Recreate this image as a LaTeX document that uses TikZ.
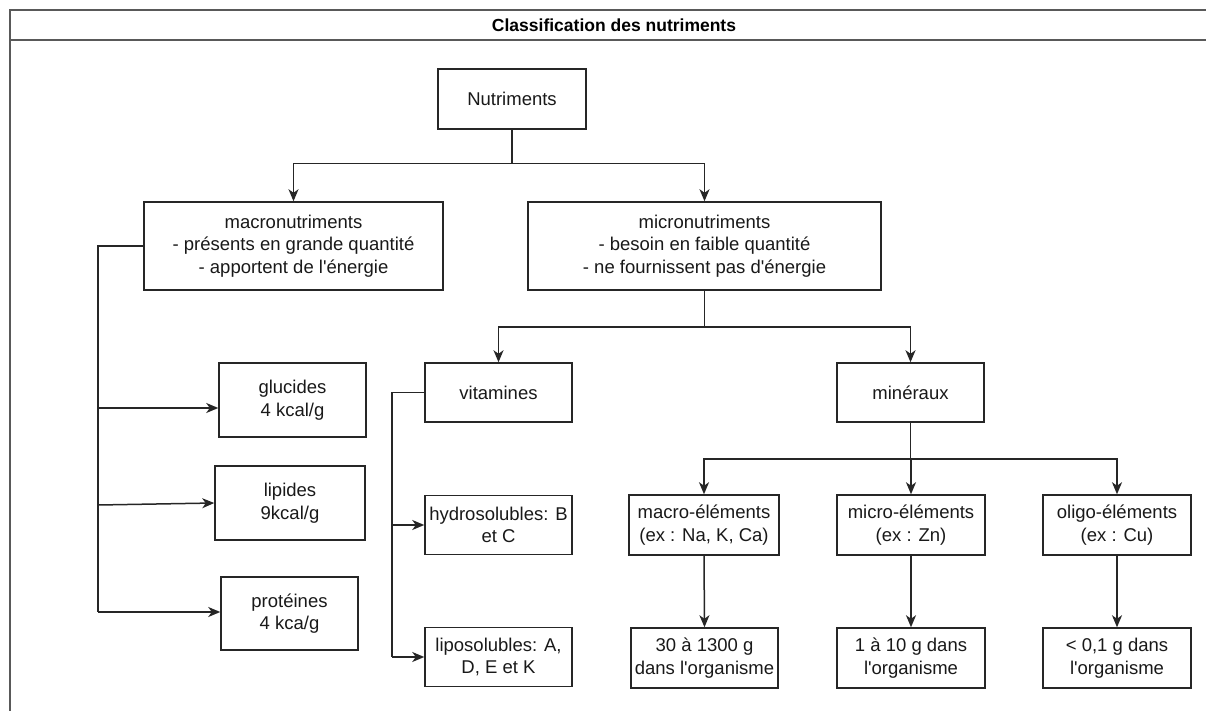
\documentclass[tikz,border=0pt]{standalone}
\usepackage{fontspec}
\setmainfont{Liberation Sans}
\usetikzlibrary{arrows.meta}
\newcommand{\apos}{\textquotesingle}
\begin{document}
\begin{tikzpicture}[x=1pt,y=-1pt,
  box/.style={draw=black!85, line width=1.5pt, fill=white, align=center,
    font=\fontsize{18.5}{22.5}\selectfont, inner sep=0pt, text=black!90},
  conn/.style={draw=black!85, line width=1.5pt},
  arr/.style={conn, -{Stealth[length=12pt,width=10pt,inset=3.5pt]}},
  frame/.style={draw=black!65, line width=1.8pt}]
\useasboundingbox (0,0) rectangle (1206,711);
\clip (0,0) rectangle (1206,711);
\fill[white] (0,0) rectangle (1206,711);
% frame
\draw[frame] (10,720) -- (10,10) -- (1215,10);
\draw[frame] (10,40) -- (1215,40);
\node[font=\fontsize{17.5}{20}\selectfont\bfseries] (title) at (614,25) {Classification des nutriments};
% boxes
\node[box, minimum width=148pt, minimum height=60pt] (nut) at (512,99) {Nutriments};
\node[box, minimum width=299pt, minimum height=88pt] (macro) at (293.5,246) {macronutriments\\- présents en grande quantité\\- apportent de l\apos énergie};
\node[box, minimum width=353pt, minimum height=88pt] (micro) at (704.5,246) {micronutriments\\- besoin en faible quantité\\- ne fournissent pas d\apos énergie};
\node[box, minimum width=147pt, minimum height=59pt] (vit) at (498.5,392.5) {vitamines};
\node[box, minimum width=147pt, minimum height=59pt] (min) at (910.5,392.5) {minéraux};
\node[box, minimum width=147pt, minimum height=74pt] (glu) at (292.5,400) {glucides\\4 kcal/g};
\node[box, minimum width=150pt, minimum height=74pt] (lip) at (290,503) {lipides\\9kcal/g};
\node[box, minimum width=137pt, minimum height=73pt] (pro) at (289.5,613.5) {protéines\\4 kca/g};
\node[box, minimum width=147pt, minimum height=59pt] (hyd) at (498.5,525) {hydrosolubles: B\\et C};
\node[box, minimum width=147pt, minimum height=59pt] (lipo) at (498.5,657) {liposolubles: A,\\D, E et K};
\node[box, minimum width=150pt, minimum height=60pt] (mael) at (704,525) {macro-éléments\\(ex : Na, K, Ca)};
\node[box, minimum width=148pt, minimum height=60pt] (miel) at (911,525) {micro-éléments\\(ex : Zn)};
\node[box, minimum width=148pt, minimum height=60pt] (olel) at (1117,525) {oligo-éléments\\(ex : Cu)};
\node[box, minimum width=147pt, minimum height=60pt] (q1) at (704.5,658) {30 à 1300 g\\dans l\apos organisme};
\node[box, minimum width=148pt, minimum height=60pt] (q2) at (911,658) {1 à 10 g dans\\l\apos organisme};
\node[box, minimum width=148pt, minimum height=60pt] (q3) at (1117,658) {< 0,1 g dans\\l\apos organisme};
% tree connectors
\coordinate (j1) at ([yshift=-34pt]nut.south);
\draw[conn] (nut.south) -- (j1);
\draw[arr] (j1) -| (macro.north);
\draw[arr] (j1) -| (micro.north);
\coordinate (j2) at ([yshift=-36pt]micro.south);
\draw[conn] (micro.south) -- (j2);
\draw[arr] (j2) -| (vit.north);
\draw[arr] (j2) -| (min.north);
\coordinate (j3) at ([yshift=-36pt]min.south);
\draw[conn] (min.south) -- (j3);
\draw[arr] (j3) -| (mael.north);
\draw[arr] (j3) -| (miel.north);
\draw[arr] (j3) -| (olel.north);
\draw[arr] (mael.south) -- (q1.north);
\draw[arr] (miel.south) -- (q2.north);
\draw[arr] (olel.south) -- (q3.north);
% macronutriments trunk
\coordinate (mt) at (98,612);
\coordinate (ga) at (98,408);
\coordinate (la) at (98,505);
\draw[conn] (macro.west) -| (mt);
\draw[arr] (ga) -- (ga -| glu.west);
\draw[arr] (la) -- (lip.west);
\draw[arr] (mt) -- (mt -| pro.west);
% vitamines trunk
\coordinate (vt) at (392,657);
\coordinate (ha) at (392,525);
\draw[conn] (vit.west) -| (vt);
\draw[arr] (ha) -- (hyd.west);
\draw[arr] (vt) -- (lipo.west);
\end{tikzpicture}
\end{document}
